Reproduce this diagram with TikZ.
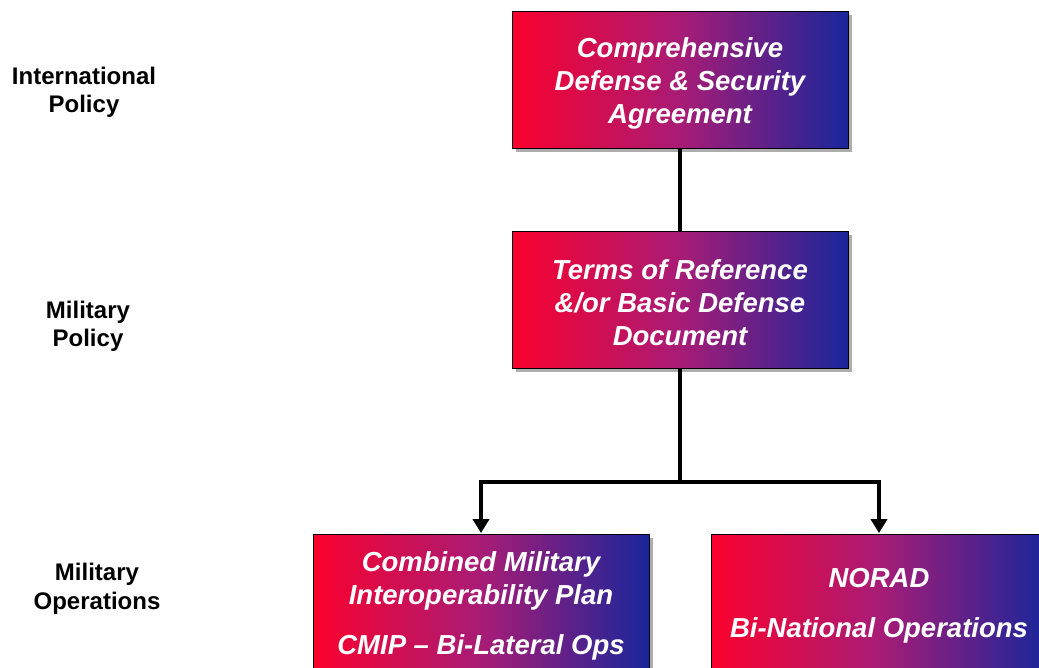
\documentclass[tikz,border=0pt]{standalone}
\usepackage{fontspec}
\setmainfont{Liberation Sans}
\usetikzlibrary{arrows.meta,shadows}
\definecolor{boxred}{RGB}{250,0,45}
\definecolor{boxmid}{RGB}{168,28,118}
\definecolor{boxblue}{RGB}{25,38,155}
\tikzset{
  box/.style={rectangle, minimum width=336pt, minimum height=137pt, inner sep=0pt,
    draw=black, line width=0.8pt,
    left color=boxred, right color=boxblue, middle color=boxmid,
    drop shadow={shadow xshift=4pt, shadow yshift=-4pt, fill=black!32, opacity=1}},
  boxtext/.style={text=white, align=center, inner sep=0pt,
    font=\fontsize{27.5}{33}\selectfont\bfseries\itshape},
  level/.style={align=center, text=black,
    font=\fontsize{24}{28.5}\selectfont\bfseries},
  conn/.style={line width=4pt, black, line join=miter},
  arr/.style={conn, -{Triangle[width=16pt,length=14pt]}, shorten >=0.5pt}
}
\begin{document}
\begin{tikzpicture}[x=1pt,y=-1pt]
\useasboundingbox (0,0) rectangle (1039,667);
\node[box] (b1) at (680,79.5) {};
\node[box] (b2) at (680,299.5) {};
\node[box] (b3) at (481,602.5) {};
\node[box] (b4) at (879,602.5) {};
\node[boxtext] (t1) at ([yshift=-3.5pt]b1.center) {Comprehensive\\Defense \& Security\\Agreement};
\node[boxtext] (t2) at ([yshift=-3.5pt]b2.center) {Terms of Reference\\\&/or Basic Defense\\Document};
\node[boxtext] (t3) at ([yshift=-3.5pt]b3.center) {Combined Military\\Interoperability Plan\\[17pt]CMIP – Bi-Lateral Ops};
\node[boxtext] (t4) at ([yshift=-3.5pt]b4.center) {NORAD\\[17pt]Bi-National Operations};
\node[level] (l1) at (84,92.5) {International\\Policy};
\node[level] (l2) at (88,326.5) {Military\\Policy};
\node[level] (l3) at (97,589) {Military\\Operations};
\coordinate (split) at (680,482);
\draw[conn] (b1.south) -- (b2.north);
\draw[conn] (b2.south) -- (split);
\draw[arr] (split) -| (b3.north);
\draw[arr] (split) -| (b4.north);
\end{tikzpicture}
\end{document}
